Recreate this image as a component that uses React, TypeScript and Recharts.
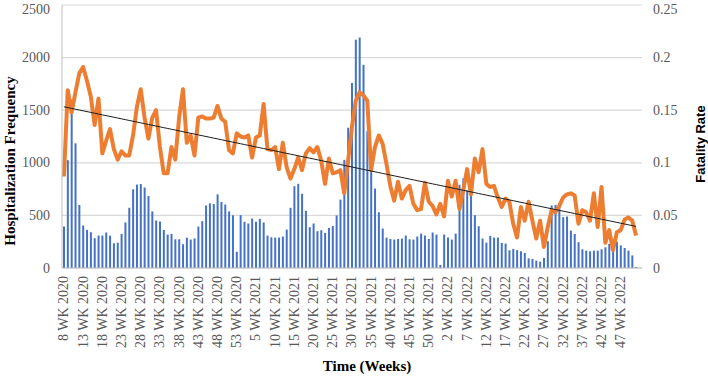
import React from 'react';
import { ComposedChart, Bar, Line, XAxis, YAxis, CartesianGrid } from 'recharts';

const range = (a: number, b: number) => Array.from({ length: b - a + 1 }, (_, i) => a + i);

// Category labels (weekly)
const weeks2020 = range(8, 53).map((w) => `${w} WK 2020`);
const weeks2021 = range(1, 53).map((w) => `${w} WK 2021`);
const weeks2022 = range(1, 51).map((w) => `${w} WK 2022`);
const weekLabels = [...weeks2020, ...weeks2021, ...weeks2022];

// Hospitalization frequency (bars, left axis)
const hospitalizations = [
  395, 1025, 1600, 1185, 600, 404, 362, 340, 283, 308,
  308, 337, 308, 235, 240, 324, 433, 573, 748, 793,
  798, 765, 685, 538, 451, 443, 362, 317, 324, 273,
  273, 226, 288, 270, 281, 394, 445, 594, 615, 608,
  700, 628, 603, 538, 501, 154, 502, 439, 423, 470,
  439, 467, 432, 308, 292, 289, 289, 299, 365, 572,
  778, 800, 705, 543, 388, 423, 350, 359, 334, 381,
  400, 499, 650, 1028, 1333, 1758, 2170, 2191, 1932, 1300,
  1000, 755, 530, 375, 289, 276, 270, 276, 280, 308,
  273, 270, 299, 327, 308, 276, 337, 318, 29, 318,
  289, 270, 327, 791, 852, 737, 702, 502, 397, 280,
  242, 305, 289, 289, 238, 232, 168, 181, 170, 159,
  143, 92, 86, 70, 60, 95, 254, 594, 600, 617,
  483, 489, 356, 324, 245, 178, 165, 159, 165, 165,
  178, 197, 230, 270, 250, 215, 190, 165, 120, 10,
];

// Fatality rate (line, right axis)
const fatalityRate = [
  0.087, 0.169, 0.148, 0.167, 0.185, 0.191, 0.178, 0.163, 0.136, 0.161,
  0.109, 0.121, 0.132, 0.113, 0.103, 0.111, 0.107, 0.107, 0.126, 0.153,
  0.170, 0.143, 0.123, 0.143, 0.150, 0.115, 0.090, 0.090, 0.115, 0.103,
  0.143, 0.170, 0.119, 0.126, 0.107, 0.143, 0.144, 0.142, 0.142, 0.143,
  0.154, 0.142, 0.139, 0.112, 0.109, 0.128, 0.125, 0.124, 0.126, 0.105,
  0.124, 0.126, 0.156, 0.113, 0.112, 0.115, 0.094, 0.119, 0.096, 0.085,
  0.094, 0.105, 0.093, 0.109, 0.114, 0.110, 0.115, 0.102, 0.080, 0.104,
  0.090, 0.091, 0.093, 0.071, 0.102, 0.134, 0.159, 0.167, 0.164, 0.159,
  0.093, 0.115, 0.126, 0.118, 0.099, 0.078, 0.064, 0.082, 0.066, 0.074,
  0.078, 0.061, 0.055, 0.056, 0.081, 0.063, 0.059, 0.051, 0.061, 0.049,
  0.083, 0.068, 0.083, 0.056, 0.074, 0.094, 0.070, 0.104, 0.091, 0.113,
  0.080, 0.077, 0.078, 0.067, 0.058, 0.066, 0.063, 0.042, 0.029, 0.058,
  0.045, 0.063, 0.045, 0.028, 0.045, 0.020, 0.039, 0.055, 0.053, 0.059,
  0.067, 0.070, 0.071, 0.069, 0.042, 0.055, 0.053, 0.045, 0.071, 0.039,
  0.077, 0.024, 0.036, 0.017, 0.034, 0.036, 0.046, 0.048, 0.045, 0.031,
];

const leftTicks = [0, 500, 1000, 1500, 2000, 2500];
const rightTicks = [0, 0.05, 0.1, 0.15, 0.2, 0.25];

// Linear trendline (least squares) of the fatality rate
const n = fatalityRate.length;
const meanX = (n - 1) / 2;
const meanY = fatalityRate.reduce((s, v) => s + v, 0) / n;
let sxy = 0;
let sxx = 0;
fatalityRate.forEach((v, i) => {
  sxy += (i - meanX) * (v - meanY);
  sxx += (i - meanX) * (i - meanX);
});
const slope = sxy / sxx;
const intercept = meanY - slope * meanX;

const data = weekLabels.map((week, i) => ({
  week,
  hosp: hospitalizations[i],
  rate: fatalityRate[i],
  trend: intercept + slope * i,
}));

const SERIF = 'Liberation Serif';
const SANS = 'Liberation Sans';
const tickStyle = { fontFamily: SERIF, fontSize: '14px', fill: '#595959' };

const XTick = (props: any) => {
  const { x, y, payload } = props;
  return (
    <text
      x={x}
      y={y}
      transform={`rotate(-90, ${x}, ${y})`}
      textAnchor="end"
      dominantBaseline="central"
      fontFamily={SERIF}
      fontSize={14}
      fill="#595959"
      style={tickStyle}
    >
      {payload.value}
    </text>
  );
};

const LeftTick = (props: any) => {
  const { x, y, payload } = props;
  return (
    <text x={x} y={y} textAnchor="end" dominantBaseline="central" fontFamily={SERIF} fontSize={14} fill="#595959" style={tickStyle}>
      {payload.value}
    </text>
  );
};

const RightTick = (props: any) => {
  const { x, y, payload } = props;
  return (
    <text x={x} y={y} textAnchor="start" dominantBaseline="central" fontFamily={SERIF} fontSize={14} fill="#595959" style={tickStyle}>
      {String(payload.value)}
    </text>
  );
};

export default function App() {
  return (
    <div style={{ position: 'absolute', left: 0, top: 0, width: 708, height: 376, background: '#fff', fontFamily: SERIF }}>
      <ComposedChart width={708} height={376} data={data} margin={{ top: 5, right: 0, bottom: 0, left: 0 }}>
        <CartesianGrid yAxisId="left" vertical={false} stroke="#d9d9d9" strokeWidth={1.2} />
        <XAxis
          dataKey="week"
          interval={4}
          tickLine={false}
          tickSize={6}
          tickMargin={2}
          axisLine={{ stroke: '#bfbfbf' }}
          height={108}
          padding={{ left: 0, right: 4 }}
          tick={XTick}
        />
        <YAxis
          yAxisId="left"
          width={62}
          domain={[0, 2500]}
          ticks={leftTicks}
          tickLine={false}
          tickSize={6}
          tickMargin={6}
          axisLine={{ stroke: '#bfbfbf' }}
          tick={LeftTick}
        />
        <YAxis
          yAxisId="right"
          orientation="right"
          width={66}
          domain={[0, 0.25]}
          ticks={rightTicks}
          tickLine={false}
          axisLine={false}
          tickSize={6}
          tickMargin={5}
          tick={RightTick}
        />
        <Bar yAxisId="left" dataKey="hosp" fill="#4472C4" barSize={2} isAnimationActive={false} />
        <Line
          yAxisId="right"
          type="linear"
          dataKey="rate"
          stroke="#ED7D31"
          strokeWidth={4}
          strokeLinejoin="round"
          dot={false}
          activeDot={false}
          isAnimationActive={false}
        />
        <Line
          yAxisId="right"
          type="linear"
          dataKey="trend"
          stroke="#1a1a1a"
          strokeWidth={1}
          dot={false}
          activeDot={false}
          isAnimationActive={false}
        />
      </ComposedChart>
      <svg
        width={708}
        height={376}
        style={{ position: 'absolute', left: 0, top: 0, pointerEvents: 'none' }}
      >
        <text
          x={10}
          y={161}
          transform="rotate(-90, 10, 161)"
          textAnchor="middle"
          dominantBaseline="central"
          style={{ fontFamily: SERIF, fontSize: 15, fontWeight: 'bold', fill: '#000' }}
        >
          Hospitalization  Frequency
        </text>
        <text
          x={700}
          y={144}
          transform="rotate(-90, 700, 144)"
          textAnchor="middle"
          dominantBaseline="central"
          style={{ fontFamily: SANS, fontSize: 13, fontWeight: 'bold', fill: '#000' }}
        >
          Fatality Rate
        </text>
        <text
          x={367}
          y={366}
          textAnchor="middle"
          dominantBaseline="central"
          style={{ fontFamily: SERIF, fontSize: 15, fontWeight: 'bold', fill: '#000' }}
        >
          Time (Weeks)
        </text>
      </svg>
    </div>
  );
}
